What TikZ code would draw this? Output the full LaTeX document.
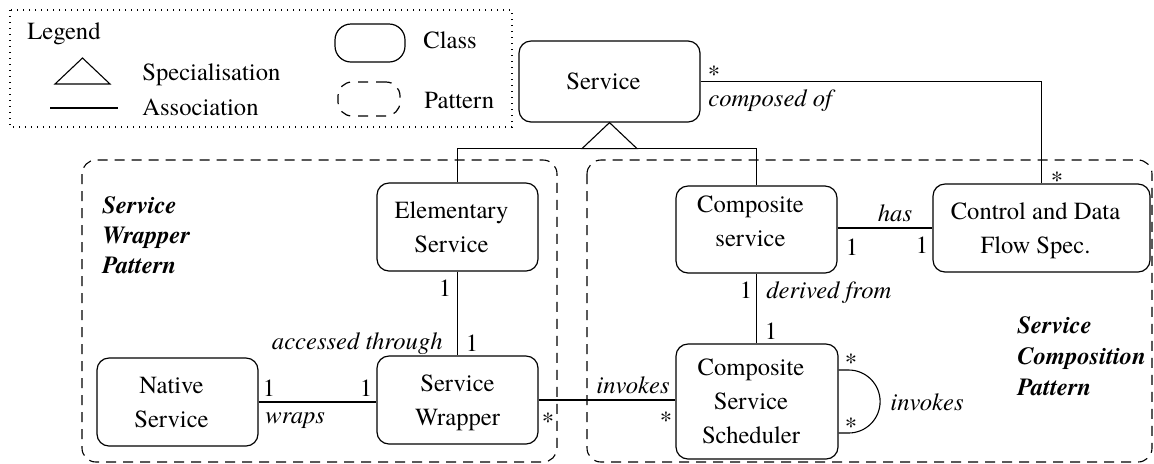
\documentclass[tikz,border=0pt]{standalone}
\usepackage{fontspec}
\setmainfont{texgyretermes}[Extension=.otf, UprightFont=*-regular, BoldFont=*-bold, ItalicFont=*-italic, BoldItalicFont=*-bolditalic]
\usetikzlibrary{calc}
\newcommand\rtail{\rule{6pt}{0pt}}
\begin{document}
\begin{tikzpicture}[x=0.5pt,y=-0.5pt,
  every node/.style={font=\fontsize{12.3}{17}\selectfont, inner sep=0pt},
  cls/.style={draw, line width=0.6pt, rounded corners=6pt, align=center, text depth=0pt},
  assoc/.style={line width=0.55pt},
  patbox/.style={draw, line width=0.55pt, dash pattern=on 5pt off 3.5pt, rounded corners=7pt},
  rl/.style={font=\fontsize{12.3}{17}\selectfont\itshape},
  ptitle/.style={font=\fontsize{12.3}{15}\selectfont\bfseries\itshape, anchor=base west},
]
\useasboundingbox (0,0) rectangle (1154,463);

% legend
\draw[line width=0.6pt, dash pattern=on 0.6pt off 2.4pt] (10,10) rectangle (512,127);
\node[anchor=base west] (leg) at (27,39) {Legend};
\draw[assoc] (55,84) -- (110,84) -- (82.5,58) -- cycle;
\node[anchor=base west] (legspec) at (142,80) {Specialisation};
\draw[assoc] (50,108) -- (118,108);
\node[anchor=base west] (legassoc) at (142,115) {Association};
\node[draw, line width=0.6pt, rounded corners=8pt, minimum width=35pt, minimum height=19pt] (legcls) at (370,43) {};
\node[anchor=base west] (legclstxt) at (423,48) {Class};
\node[draw, line width=0.6pt, rounded corners=7pt, dash pattern=on 5pt off 4pt, minimum width=31pt, minimum height=17pt] (legpat) at (369,99) {};
\node[anchor=base west] (legpattxt) at (424,108) {Pattern};

% pattern boxes
\draw[patbox] (82,160) rectangle (557,462);
\draw[patbox] (587,160) rectangle (1152,462);
\node[ptitle] (pw1) at (102,213) {Service};
\node[ptitle] (pw2) at (102,243) {Wrapper};
\node[ptitle] (pw3) at (102,273) {Pattern};
\node[ptitle] (pc1) at (1017,333) {Service};
\node[ptitle] (pc2) at (1017,364) {Composition};
\node[ptitle] (pc3) at (1017,395) {Pattern};

% classes
\node[cls, minimum width=90.5pt, minimum height=40.5pt] (service) at (609.5,81.5) {Service\rtail};
\node[cls, minimum width=80.5pt, minimum height=44pt] (elem) at (457.5,227) {Elementary\rtail\\Service\rtail};
\node[cls, minimum width=80.5pt, minimum height=44pt] (wrap) at (457.5,400) {Service\\Wrapper};
\node[cls, minimum width=80.5pt, minimum height=44pt] (native) at (177.5,402) {Native\rtail\\Service\rtail};
\node[cls, minimum width=80.5pt, minimum height=43.5pt, text depth=8pt] (comp) at (756.5,229.5) {Composite\rtail\\service\rtail};
\node[cls, minimum width=108.5pt, minimum height=44pt] (ctrl) at (1041.5,228) {Control and Data\rtail\\Flow Spec.\rtail};
\node[cls, minimum width=81pt, minimum height=57.5pt] (sched) at (757,401.5) {Composite\rtail\\Service\rtail\\Scheduler\rtail};

% connectors
\coordinate (tribase) at ($(service.south)+(0,26)$);
\draw[assoc] (service.south) -- ++(-27.5,26) -- ++(55,0) -- cycle;
\draw[assoc] (elem.north) |- (tribase) -| (comp.north);
\draw[assoc] (service.east) -| (ctrl.north);
\draw[assoc] (elem.south) -- (wrap.north);
\draw[assoc] (native.east) -- (native.east -| wrap.west);
\draw[assoc] (wrap.east) -- (wrap.east -| sched.west);
\draw[assoc] (ctrl.west -| comp.east) -- (ctrl.west);
\draw[assoc] (comp.south) -- (comp.south |- sched.north);
\draw[assoc] ($(sched.east)+(0,-31.5)$) -- ++(10,0) arc[start angle=90, end angle=-90, radius=15.75pt] -- ($(sched.east)+(0,31.5)$);

% labels
\node[anchor=base] (s1) at (714,82) {*};
\node[rl, anchor=base west] (compof) at (708,106) {composed of};
\node[anchor=base] (s2) at (1057,188) {*};
\node[anchor=base] (m1) at (445,296) {1};
\node[anchor=base] (m2) at (472,351) {1};
\node[rl, anchor=base east] (acc) at (443,349) {accessed through};
\node[anchor=base] (m3) at (366,396) {1};
\node[anchor=base] (m4) at (269,396) {1};
\node[rl, anchor=base west] (wraps) at (265,423) {wraps};
\node[anchor=base] (s3) at (548,429) {*};
\node[rl, anchor=base west] (inv1) at (596,393) {invokes};
\node[anchor=base] (s4) at (666,428) {*};
\node[anchor=base] (m5) at (771,339) {1};
\node[anchor=base] (m6) at (746,298) {1};
\node[rl, anchor=base west] (der) at (766,298) {derived from};
\node[anchor=base] (m7) at (852,255) {1};
\node[rl, anchor=base] (has) at (895,221) {has};
\node[anchor=base] (m8) at (922,253) {1};
\node[anchor=base] (s5) at (851,370) {*};
\node[anchor=base] (s6) at (851,434) {*};
\node[rl, anchor=base west] (inv2) at (890,410) {invokes};
\end{tikzpicture}
\end{document}
